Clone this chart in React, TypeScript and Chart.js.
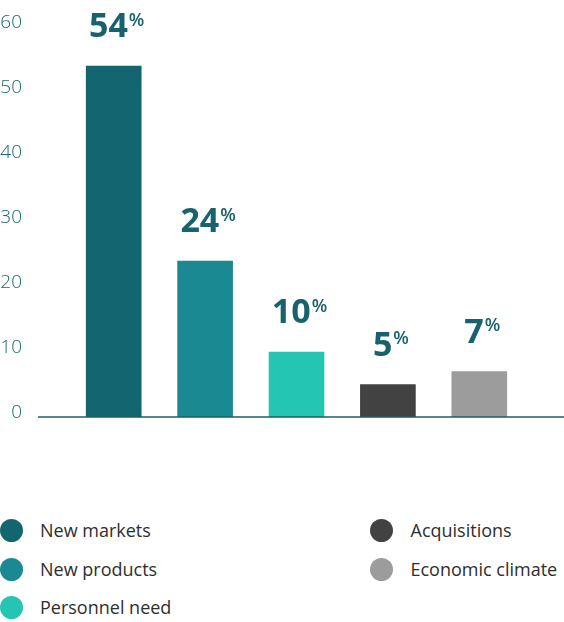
import React, { useEffect, useRef } from 'react';
import Chart from 'chart.js/auto';

const categories = ['New markets', 'New products', 'Personnel need', 'Acquisitions', 'Economic climate'];
const shares = [54, 24, 10, 5, 7];
const barColors = ['#136670', '#1b8992', '#24c5b2', '#424242', '#9c9c9c'];
const yTicks = [0, 10, 20, 30, 40, 50, 60];
// legend columns, as indexes into categories
const legendCols = [[0, 1, 2], [3, 4]];

const labelColor = '#17626c';

// big number with a small raised % above each bar
const barLabels = {
	id: 'barLabels',
	afterDatasetsDraw(chart: any) {
		const ctx = chart.ctx;
		const meta = chart.getDatasetMeta(0);
		ctx.save();
		ctx.fillStyle = labelColor;
		ctx.textAlign = 'left';
		ctx.textBaseline = 'alphabetic';
		meta.data.forEach((bar: any, i: number) => {
			const num = String(shares[i]);
			ctx.font = 'bold 34px "Open Sans"';
			const wNum = ctx.measureText(num).width;
			ctx.font = '600 18px "Open Sans"';
			const wPct = ctx.measureText('%').width;
			const left = bar.x - (wNum + 1 + wPct) / 2 + 3;
			const base = bar.y - 29;
			ctx.font = 'bold 34px "Open Sans"';
			ctx.fillText(num, left, base);
			ctx.font = '600 18px "Open Sans"';
			ctx.fillText('%', left + wNum + 1, base - 11.5);
		});
		ctx.restore();
	},
};

// axis line runs past the plot area on both sides
const baseline = {
	id: 'baseline',
	afterDatasetsDraw(chart: any) {
		const { ctx, chartArea } = chart;
		ctx.save();
		ctx.strokeStyle = '#1c5e66';
		ctx.lineWidth = 1.5;
		ctx.beginPath();
		ctx.moveTo(38, chartArea.bottom);
		ctx.lineTo(chart.width, chartArea.bottom);
		ctx.stroke();
		ctx.restore();
	},
};

const App: React.FC = () => {
	const chartRef = useRef<HTMLCanvasElement | null>(null);
	const chartInstanceRef = useRef<Chart<'bar'> | null>(null);

	useEffect(() => {
		document.body.style.margin = '0';
		if (!chartRef.current) return;
		const ctx = chartRef.current.getContext('2d');
		if (!ctx) return;

		if (chartInstanceRef.current) {
			chartInstanceRef.current.destroy();
		}

		chartInstanceRef.current = new Chart(ctx, {
			type: 'bar',
			data: {
				labels: categories,
				datasets: [
					{
						data: shares,
						backgroundColor: barColors,
						borderWidth: 0,
						barThickness: 55,
					},
				],
			},
			options: {
				animation: false,
				responsive: true,
				maintainAspectRatio: false,
				layout: {
					padding: { top: 27, right: 39, bottom: 23, left: 0 },
				},
				scales: {
					x: {
						display: false,
					},
					y: {
						min: 0,
						max: 60,
						afterBuildTicks: (scale: any) => {
							scale.ticks = yTicks.map((v) => ({ value: v }));
						},
						afterFit: (scale: any) => {
							// fixed axis width; tick padding must not eat into the plot height
							scale.width = 68;
							scale.paddingTop = 0;
							scale.paddingBottom = 0;
						},
						grid: { display: false, drawTicks: false },
						border: { display: false },
						ticks: {
							padding: 46,
							labelOffset: -4,
							color: '#1b6870',
							font: { family: '"Open Sans"', size: 19, weight: 300 },
						},
					},
				},
				plugins: {
					legend: { display: false },
					tooltip: { enabled: false },
				},
			},
			plugins: [baseline, barLabels],
		});

		return () => {
			if (chartInstanceRef.current) {
				chartInstanceRef.current.destroy();
				chartInstanceRef.current = null;
			}
		};
	}, []);

	const colLeft = [0, 369.5];
	const textLeft = [40, 410.5];
	const rowCenter = [530.5, 569, 607.5];

	return (
		<div style={{ position: 'relative', width: 564, height: 622, fontFamily: '"Open Sans", sans-serif' }}>
			<div style={{ position: 'absolute', left: 0, top: 0, width: 564, height: 440 }}>
				<canvas ref={chartRef} />
			</div>
			{legendCols.map((col, c) =>
				col.map((idx, r) => (
					<div key={idx}>
						<span
							style={{
								position: 'absolute',
								left: colLeft[c],
								top: rowCenter[r] - 11.5,
								width: 23,
								height: 23,
								borderRadius: '50%',
								background: barColors[idx],
							}}
						/>
						<span
							style={{
								position: 'absolute',
								left: textLeft[c],
								top: rowCenter[r] - 12.5,
								height: 25,
								lineHeight: '25px',
								fontSize: 18,
								color: '#2e2e2e',
								whiteSpace: 'nowrap',
							}}
						>
							{categories[idx]}
						</span>
					</div>
				))
			)}
		</div>
	);
};

export default App;
